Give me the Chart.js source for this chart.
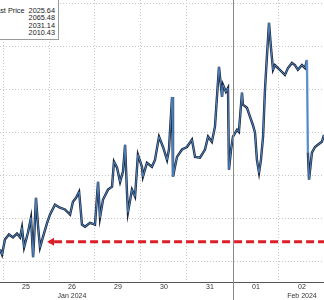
<!DOCTYPE html>
<html>
<head>
<meta charset="utf-8">
<script src="https://cdn.jsdelivr.net/npm/chart.js@4.4.1/dist/chart.umd.min.js"></script>
<style>
  body { margin: 0; background: #fff; overflow: hidden; }
  #wrap { position: relative; width: 324px; height: 300px; overflow: hidden; }
  #legendBox {
    position: absolute; left: -24px; top: -2px; width: 78px;
    background: #fff; border: 1px solid #9a9a9a;
    font: 7.3px "Liberation Sans", Arial, sans-serif; color: #222;
    line-height: 7.3px; padding: 8px 3px 3px 0; text-align: right;
    white-space: nowrap;
  }
</style>
</head>
<body>
<div id="wrap">
  <canvas id="goldChart"></canvas>
  <div id="legendBox"></div>
</div>
<script>
// hours since start of Thu 25 Jan session (one trading day = 24h on the axis)
const hours = [-1.6, -0.5, 1.0, 3.1, 5.2, 7.3, 8.9, 9.9, 11.0, 13.0, 14.6, 15.7, 16.2, 17.2, 18.3, 19.3, 20.9, 23.0,
  24.5, 27.1, 29.7, 32.3, 35.0, 36.5, 38.1, 39.7, 41.2, 42.8, 45.4, 48.0,
  49.6, 50.6, 52.2, 54.8, 56.9, 57.9, 59.5, 61.1, 62.6, 63.7, 64.7, 65.2, 67.3, 68.9, 70.4,
  72.5, 73.0, 75.1, 77.7, 79.3, 81.4, 83.5, 85.6, 86.6, 88.2, 88.7, 90.8, 93.4,
  96.0, 98.6, 100.2, 102.8, 105.4, 107.0, 109.0, 110.6, 112.7, 114.3, 114.8, 116.3, 117.4, 117.9, 119.0,
  120.0, 122.1, 123.1, 124.7, 125.2, 127.3, 128.9, 130.4, 131.5, 132.5, 133.6, 134.6, 135.7, 136.7, 137.7, 138.8, 139.8, 140.9, 141.9, 143.5,
  145.6, 147.1, 148.7, 150.8, 152.3, 153.9, 156.0, 157.6, 158.6, 159.1, 159.7, 161.2, 162.8, 164.3, 166.4, 167.5];
const prices = [2012.8, 2011.6, 2015.1, 2016.3, 2015.6, 2016.5, 2015.6, 2017.9, 2013.3, 2016.7, 2020.2, 2011.0, 2015.1, 2024.8, 2018.1, 2013.3, 2015.8, 2019.0,
  2020.9, 2023.2, 2022.5, 2022.1, 2020.9, 2023.9, 2024.8, 2026.2, 2018.6, 2018.1, 2019.0, 2018.6,
  2028.5, 2020.2, 2024.4, 2026.7, 2027.4, 2033.2, 2031.8, 2028.5, 2030.9, 2037.1, 2026.0, 2021.4, 2026.7, 2025.1, 2034.8,
  2032.0, 2029.7, 2032.9, 2032.0, 2033.6, 2039.0, 2036.6, 2033.6, 2036.0, 2048.2, 2029.7, 2034.3, 2036.0,
  2036.6, 2038.3, 2034.3, 2034.1, 2036.0, 2039.0, 2037.8, 2041.3, 2055.2, 2048.2, 2051.0, 2049.4, 2050.3, 2031.3, 2036.0,
  2039.0, 2040.6, 2040.1, 2049.2, 2046.4, 2045.7, 2043.6, 2041.7, 2039.9, 2033.6, 2030.6, 2033.6, 2039.0, 2049.9, 2057.5, 2065.4, 2059.8, 2054.5, 2055.6, 2054.9,
  2054.0, 2053.3, 2054.9, 2056.1, 2055.6, 2054.5, 2055.6, 2054.9, 2056.8, 2035.3, 2029.0, 2035.3, 2036.6, 2037.1, 2037.8, 2039.4];

const dayLabels = ['25', '26', '29', '30', '31', '01', '02'];
const monthLabels = ['', 'Jan 2024', '', '', '', '', 'Feb 2024'];
const yTicks = [2010, 2020, 2030, 2040, 2050, 2060, 2070];
const monthBreak = 120;        // 1 Feb starts here
const arrowLevel = 2014.6;     // red dashed arrow
const arrowFrom = 23;
const legendLabel = 'Last Price';
const legendValues = ['2025.64', '2065.48', '2031.14', '2010.43'];

// legend box
const box = document.getElementById('legendBox');
legendValues.forEach((v, i) => {
  const row = document.createElement('div');
  row.textContent = (i === 0 ? legendLabel + '\u00a0\u00a0' : '') + v;
  box.appendChild(row);
});

const points = hours.map((h, i) => ({ x: h, y: prices[i] }));

const extras = {
  id: 'extras',
  afterDatasetsDraw(chart) {
    const { ctx, scales: { x, y }, chartArea } = chart;
    // month separator
    const mx = Math.round(x.getPixelForValue(monthBreak)) + 0.5;
    ctx.save();
    ctx.strokeStyle = '#8a8a8a';
    ctx.lineWidth = 1;
    ctx.beginPath();
    ctx.moveTo(mx, chartArea.top);
    ctx.lineTo(mx, chart.height);
    ctx.stroke();
    // red arrow
    const ay = y.getPixelForValue(arrowLevel);
    const ax = x.getPixelForValue(arrowFrom);
    ctx.strokeStyle = '#dc1f26';
    ctx.fillStyle = '#dc1f26';
    ctx.lineWidth = 3;
    ctx.setLineDash([8, 4]);
    ctx.beginPath();
    ctx.moveTo(ax + 7, ay);
    ctx.lineTo(chartArea.right, ay);
    ctx.stroke();
    ctx.setLineDash([]);
    ctx.beginPath();
    ctx.moveTo(ax, ay);
    ctx.lineTo(ax + 7, ay - 4);
    ctx.lineTo(ax + 7, ay + 4);
    ctx.closePath();
    ctx.fill();
    ctx.restore();
  }
};

new Chart(document.getElementById('goldChart'), {
  type: 'line',
  data: {
    datasets: [{
      data: points,
      borderColor: '#4f86c6',
      borderWidth: 1,
      pointRadius: 0,
      tension: 0
    }, {
      data: points,
      borderColor: '#1b2638',
      borderWidth: 2.4,
      pointRadius: 0,
      tension: 0,
      segment: {
        borderColor: c => Math.abs(c.p1.parsed.y - c.p0.parsed.y) > 20 ? '#6f9fd6' : undefined
      }
    }]
  },
  options: {
    responsive: true,
    maintainAspectRatio: false,
    animation: false,
    layout: { padding: 0 },
    plugins: { legend: { display: false }, tooltip: { enabled: false } },
    scales: {
      x: {
        type: 'linear',
        min: -1.57,
        max: 167.5,
        afterBuildTicks: s => {
          const t = [];
          for (let i = 0; i < dayLabels.length; i++) t.push({ value: i * 24 }, { value: i * 24 + 12 });
          s.ticks = t;
        },
        grid: {
          drawTicks: false,
          color: c => (c.tick && c.tick.value % 24 === 0 && c.tick.value !== monthBreak) ? '#c8c8c8' : 'rgba(0,0,0,0)'
        },
        border: { display: true, color: '#555', width: 1, dash: [1, 2] },
        ticks: {
          autoSkip: false,
          maxRotation: 0,
          padding: 0,
          color: '#333',
          font: { family: '"Liberation Sans", Arial, sans-serif', size: 7, lineHeight: 1.25 },
          callback: v => {
            if (v % 24 !== 12) return '';
            const i = (v - 12) / 24;
            return [dayLabels[i], monthLabels[i]];
          }
        }
      },
      y: {
        min: 2005.15,
        max: 2070.7,
        afterBuildTicks: s => { s.ticks = yTicks.map(v => ({ value: v })); },
        ticks: { display: false },
        grid: { drawTicks: false, color: '#c8c8c8' },
        border: { display: false, dash: [1, 2] }
      }
    }
  },
  plugins: [extras]
});
</script>
</body>
</html>
